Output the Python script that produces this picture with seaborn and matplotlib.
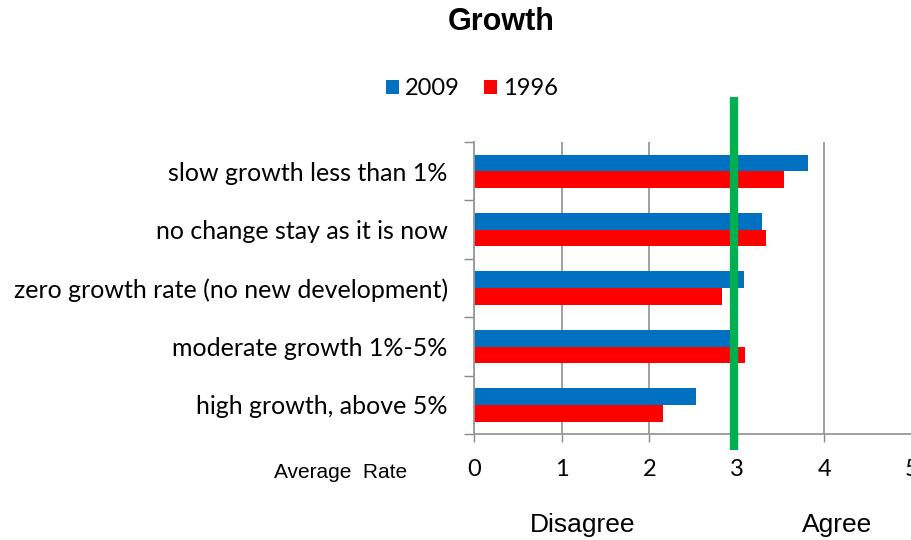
import pandas as pd
import matplotlib.pyplot as plt
import seaborn as sns

categories = ['slow growth less than 1%', 'no change stay as it is now',
              'zero growth rate (no new development)', 'moderate growth 1%-5%',
              'high growth, above 5%']
rate_2009 = [3.81, 3.29, 3.08, 3.02, 2.53]
rate_1996 = [3.54, 3.34, 2.83, 3.10, 2.16]
neutral = 2.97
x_ticks = [0, 1, 2, 3, 4, 5]

df = pd.DataFrame({
    'item': categories * 2,
    'rate': rate_2009 + rate_1996,
    'year': ['2009'] * 5 + ['1996'] * 5,
})

sns.set_style('white')
plt.rcParams['font.family'] = ['Lato', 'DejaVu Sans']
plt.rcParams['text.color'] = 'black'
plt.rcParams['xtick.labelcolor'] = 'black'
plt.rcParams['ytick.labelcolor'] = 'black'

fig = plt.figure(figsize=(9.12, 5.4), dpi=100)
ax = fig.add_axes([0.52, 0.196, 0.4797, 0.541])

sns.barplot(data=df, y='item', x='rate', hue='year', order=categories,
            hue_order=['2009', '1996'], palette=['#0070C0', '#FF0000'], saturation=1,
            width=0.57, gap=0, linewidth=0, ax=ax, orient='h')

ax.set_xlim(0, 5)
ax.set_ylim(4.5, -0.5)
ax.set_xticks(x_ticks)
ax.set_xticklabels([str(t) for t in x_ticks], fontsize=17)
ax.tick_params(axis='x', length=6, width=1, color='#888888', pad=12, direction='out', bottom=True)
ax.tick_params(axis='y', which='major', length=0, pad=19, labelsize=18)
ax.set_yticks([i - 0.5 for i in range(6)], minor=True)
ax.tick_params(axis='y', which='minor', length=7, width=1, color='#888888', left=True)
ax.grid(axis='x', color='#999999', linewidth=1.3)
ax.set_axisbelow(True)
for s in ['top', 'right']:
    ax.spines[s].set_visible(False)
for s in ['left', 'bottom']:
    ax.spines[s].set_color('#999999')
    ax.spines[s].set_linewidth(1.3)
ax.set_xlabel('')
ax.set_ylabel('')

# neutral line
ax.plot([neutral, neutral], [-0.055, 1.154], color='#00B050', linewidth=6,
        transform=ax.get_xaxis_transform(), clip_on=False, zorder=5, solid_capstyle='butt')

leg = ax.legend(loc='center', ncol=2, frameon=False, fontsize=17, handlelength=0.55,
                handleheight=0.55, handletextpad=0.25, columnspacing=1.0)
leg.set_bbox_to_anchor((472 / 912, 1 - 89 / 540), transform=fig.transFigure)

fig.text(501 / 912, 1 - 22 / 540, 'Growth', ha='center', va='center', fontsize=22,
         fontweight='bold', family='Liberation Sans', color='black')
fig.text(341 / 912, 1 - 473 / 540, 'Average  Rate', ha='center', va='center', fontsize=15,
         family='Liberation Sans', color='black')
fig.text(583 / 912, 1 - 525 / 540, 'Disagree', ha='center', va='center', fontsize=19,
         family='Liberation Sans', color='black')
fig.text(837 / 912, 1 - 525 / 540, 'Agree', ha='center', va='center', fontsize=19,
         family='Liberation Sans', color='black')

plt.savefig('out.png', dpi=100)
